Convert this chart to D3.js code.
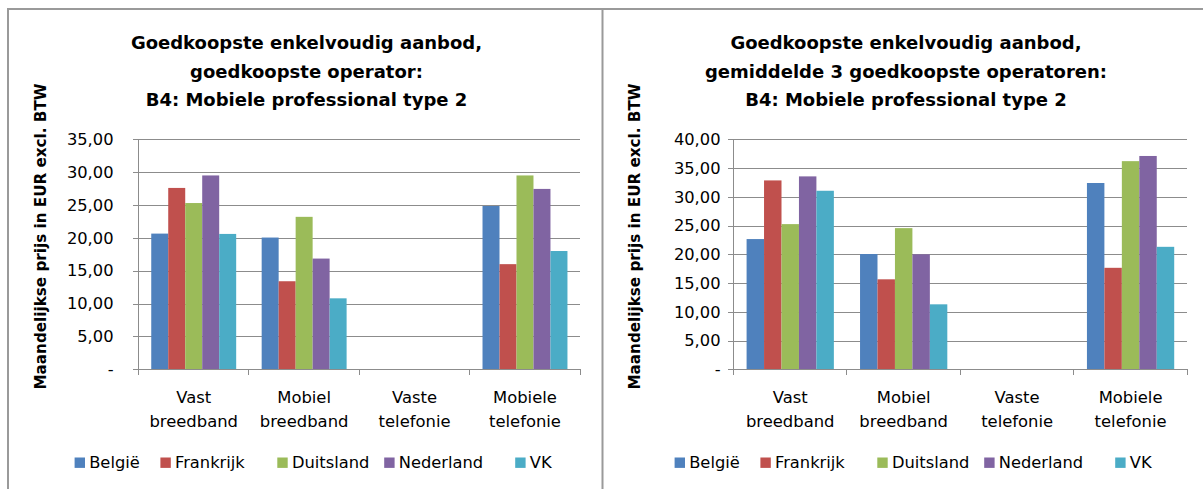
<!DOCTYPE html>
<html>
<head>
<meta charset="utf-8">
<script src="https://cdn.jsdelivr.net/npm/d3@7"></script>
<style>
  html, body { margin: 0; padding: 0; background: #fff; }
  svg { display: block; }
  text { font-family: "DejaVu Sans", sans-serif; fill: #000; }
</style>
</head>
<body>
<svg id="chart" width="1203" height="489"></svg>
<script>
// ---------- data ----------
const categories = [["Vast", "breedband"], ["Mobiel", "breedband"], ["Vaste", "telefonie"], ["Mobiele", "telefonie"]];
const seriesNames = ["België", "Frankrijk", "Duitsland", "Nederland", "VK"];
const seriesColors = ["#4F81BD", "#C0504D", "#9BBB59", "#8064A2", "#4BACC6"];

// Chart 1: goedkoopste operator
const c1Belgie    = [20.65, 20.05, 0, 24.85];
const c1Frankrijk = [27.6, 13.4, 0, 16.0];
const c1Duitsland = [25.3, 23.2, 0, 29.5];
const c1Nederland = [29.5, 16.85, 0, 27.45];
const c1VK        = [20.6, 10.8, 0, 18.0];
const c1Ticks     = [0, 5, 10, 15, 20, 25, 30, 35];
const c1Title     = ["Goedkoopste enkelvoudig aanbod,", "goedkoopste operator:", "B4: Mobiele professional type 2"];

// Chart 2: gemiddelde 3 goedkoopste operatoren
const c2Belgie    = [22.65, 20.05, 0, 32.4];
const c2Frankrijk = [32.85, 15.65, 0, 17.65];
const c2Duitsland = [25.25, 24.55, 0, 36.2];
const c2Nederland = [33.55, 20.0, 0, 37.1];
const c2VK        = [31.05, 11.3, 0, 21.3];
const c2Ticks     = [0, 5, 10, 15, 20, 25, 30, 35, 40];
const c2Title     = ["Goedkoopste enkelvoudig aanbod,", "gemiddelde 3 goedkoopste operatoren:", "B4: Mobiele professional type 2"];

const yAxisTitle = "Maandelijkse prijs in EUR excl. BTW";

// ---------- drawing ----------
const svg = d3.select("#chart");

// panel borders
const borderColor = "#9a9a9a";
svg.append("line").attr("x1", 7).attr("x2", 1203).attr("y1", 9).attr("y2", 9)
  .attr("stroke", borderColor).attr("stroke-width", 2);
svg.append("line").attr("x1", 8).attr("x2", 8).attr("y1", 8).attr("y2", 489)
  .attr("stroke", borderColor).attr("stroke-width", 2);
svg.append("line").attr("x1", 602.5).attr("x2", 602.5).attr("y1", 8).attr("y2", 489)
  .attr("stroke", borderColor).attr("stroke-width", 2);

const fmt = d => d === 0 ? "-" : d3.format(".2f")(d).replace(".", ",");

function drawChart(cfg) {
  const g = svg.append("g");
  const series = [cfg.belgie, cfg.frankrijk, cfg.duitsland, cfg.nederland, cfg.vk];
  const catIdx = categories.map((c, i) => i);

  const x0 = d3.scaleBand().domain(catIdx).range([cfg.left, cfg.right]).paddingInner(0).paddingOuter(0);
  const bw = x0.bandwidth();
  const barW = bw / 6.5;
  const x1 = d3.scaleBand().domain(seriesNames).range([0.75 * barW, bw - 0.75 * barW]).padding(0);
  const y = d3.scaleLinear().domain([0, d3.max(cfg.ticks)]).range([cfg.bottom, cfg.top]);

  // gridlines
  g.append("g").attr("transform", `translate(${cfg.left},0)`)
    .call(d3.axisLeft(y).tickValues(cfg.ticks.filter(t => t > 0)).tickSize(-(cfg.right - cfg.left)).tickFormat(""))
    .call(a => a.select(".domain").remove())
    .call(a => a.selectAll("line").attr("stroke", "#8c8c8c").attr("shape-rendering", "crispEdges"));

  // y axis with ticks & labels
  g.append("g").attr("transform", `translate(${cfg.left},0)`)
    .call(d3.axisLeft(y).tickValues(cfg.ticks).tickSize(6).tickPadding(cfg.tickPad).tickFormat(fmt))
    .call(a => a.select(".domain").attr("stroke", "#8c8c8c").attr("d", `M-6,${cfg.bottom}H0V${cfg.top}H0`).attr("shape-rendering", "crispEdges"))
    .call(a => a.selectAll("line").attr("stroke", "#8c8c8c").attr("shape-rendering", "crispEdges"))
    .call(a => a.selectAll("text").attr("font-family", "DejaVu Sans").attr("font-size", 16.3).attr("fill", "#000"));

  // bars
  seriesNames.forEach((name, si) => {
    g.append("g").selectAll("rect")
      .data(series[si].map((v, ci) => ({ v, ci })))
      .join("rect")
      .attr("x", d => x0(d.ci) + x1(name))
      .attr("width", x1.bandwidth())
      .attr("y", d => y(d.v))
      .attr("height", d => y(0) - y(d.v))
      .attr("fill", seriesColors[si]);
  });

  // x axis baseline & category ticks
  g.append("line").attr("x1", cfg.left).attr("x2", cfg.right).attr("y1", y(0)).attr("y2", y(0))
    .attr("stroke", "#8c8c8c").attr("shape-rendering", "crispEdges");
  const tickXs = catIdx.map(i => x0(i)).concat([x0(catIdx[catIdx.length - 1]) + bw]);
  g.append("g").selectAll("line").data(tickXs).join("line")
    .attr("x1", d => d).attr("x2", d => d).attr("y1", y(0)).attr("y2", y(0) + 6)
    .attr("stroke", "#8c8c8c").attr("shape-rendering", "crispEdges");

  // category labels
  const lab = g.append("g").selectAll("text").data(catIdx).join("text")
    .attr("text-anchor", "middle").attr("font-size", 16.4)
    .attr("x", i => x0(i) + bw / 2).attr("y", 403);
  lab.append("tspan").text(i => categories[i][0]);
  lab.append("tspan").attr("x", i => x0(i) + bw / 2).attr("dy", 23.7).text(i => categories[i][1]);

  // title
  const t = g.append("text").attr("text-anchor", "middle").attr("font-weight", "bold").attr("font-size", 18);
  cfg.title.forEach((line, li) => {
    t.append("tspan").attr("x", cfg.titleX).attr("y", [49, 78, 106][li]).text(line);
  });

  // y axis title
  g.append("text").attr("text-anchor", "middle").attr("font-weight", "bold").attr("font-size", 15.2)
    .attr("transform", `translate(${cfg.yTitleX},236.5) rotate(-90)`).text(yAxisTitle);

  // legend
  const legX = [74.6, 160.4, 277.3, 384.2, 515.2];
  const leg = g.append("g").selectAll("g").data(seriesNames).join("g")
    .attr("transform", (d, i) => `translate(${cfg.offset + legX[i]},457.5)`);
  leg.append("rect").attr("width", 10.4).attr("height", 10.4).attr("fill", (d, i) => seriesColors[i]);
  leg.append("text").attr("x", 14.6).attr("y", 10.7).attr("font-size", 16.3).text(d => d);
}

drawChart({
  belgie: c1Belgie, frankrijk: c1Frankrijk, duitsland: c1Duitsland, nederland: c1Nederland, vk: c1VK,
  ticks: c1Ticks, title: c1Title,
  left: 138.5, right: 580.2, top: 139.3, bottom: 369.3,
  tickPad: 19, titleX: 306.5, yTitleX: 45.5, offset: 0
});
drawChart({
  belgie: c2Belgie, frankrijk: c2Frankrijk, duitsland: c2Duitsland, nederland: c2Nederland, vk: c2VK,
  ticks: c2Ticks, title: c2Title,
  left: 733.5, right: 1187.3, top: 139.3, bottom: 369.3,
  tickPad: 7, titleX: 906, yTitleX: 640, offset: 600
});
</script>
</body>
</html>
